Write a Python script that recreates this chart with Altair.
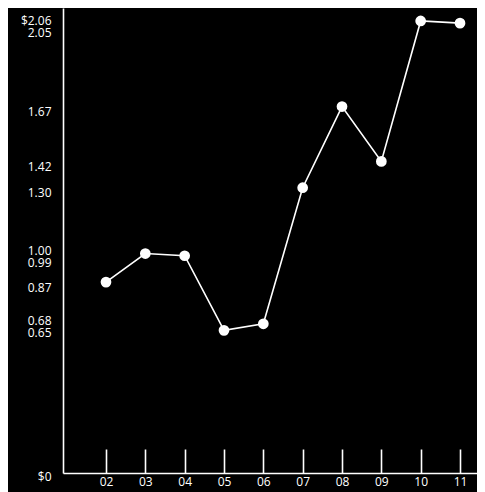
import altair as alt
import pandas as pd

years = [2002, 2003, 2004, 2005, 2006, 2007, 2008, 2009, 2010, 2011]
values = [0.87, 1.00, 0.99, 0.65, 0.68, 1.30, 1.67, 1.42, 2.06, 2.05]
y_ticks = [0, 0.65, 0.68, 0.87, 0.99, 1.00, 1.30, 1.42, 1.67, 2.05, 2.06]

df = pd.DataFrame({"year": years, "value": values})

FONT = "Open Sans"

x_scale = alt.Scale(domain=[2000.907, 2011.432], nice=False, zero=False)
y_scale = alt.Scale(domain=[0, 2.119], nice=False, zero=True)

y_axis = alt.Axis(
    values=y_ticks,
    labelExpr="datum.value == 0 ? '$0' : (datum.value == 2.06 ? '$2.06' : format(datum.value, '.2f'))",
    ticks=False,
    grid=False,
    domain=True,
    domainColor="white",
    domainWidth=1.6,
    labelColor="white",
    labelFont=FONT,
    labelFontSize=12,
    labelPadding=12,
    labelFlush=False,
    labelOverlap=False,
    labelBound=False,
    labelOffset={
        "condition": [
            {"test": "datum.value == 2.06", "value": 0},
            {"test": "datum.value == 2.05", "value": 9},
            {"test": "datum.value == 1", "value": -3},
            {"test": "datum.value == 0.99", "value": 7},
            {"test": "datum.value == 0.68", "value": -3},
            {"test": "datum.value == 0.65", "value": 2},
            {"test": "datum.value == 0", "value": 3},
        ],
        "value": 5,
    },
    title=None,
)

tick_axis = alt.Axis(
    orient="bottom",
    values=years,
    offset=-24,
    tickSize=24,
    tickColor="white",
    tickWidth=1.6,
    domain=False,
    labels=False,
    grid=False,
    title=None,
)

label_axis = alt.Axis(
    orient="bottom",
    values=years,
    labelExpr="substring(toString(datum.value), 2)",
    ticks=False,
    domain=True,
    domainColor="white",
    domainWidth=1.6,
    grid=False,
    labelColor="white",
    labelFont=FONT,
    labelFontSize=12,
    labelPadding=3,
    labelFlush=False,
    title=None,
)

line = alt.Chart(df).mark_line(color="white", strokeWidth=1.6).encode(
    x=alt.X("year:Q", scale=x_scale, axis=tick_axis),
    y=alt.Y("value:Q", scale=y_scale, axis=y_axis),
)

points = alt.Chart(df).mark_circle(color="white", opacity=1, size=115).encode(
    x=alt.X("year:Q", scale=x_scale, axis=label_axis),
    y=alt.Y("value:Q", scale=y_scale, axis=y_axis),
)

chart = (
    alt.layer(line, points)
    .resolve_axis(x="independent")
    .properties(
        width=414,
        height=465,
        autosize=alt.AutoSizeParams(type="none"),
        padding={"left": 55, "top": 0, "right": 0, "bottom": 19},
        background="black",
    )
    .configure_view(stroke=None)
)

chart.save("out.html", embed_options={"renderer": "svg", "actions": False})
